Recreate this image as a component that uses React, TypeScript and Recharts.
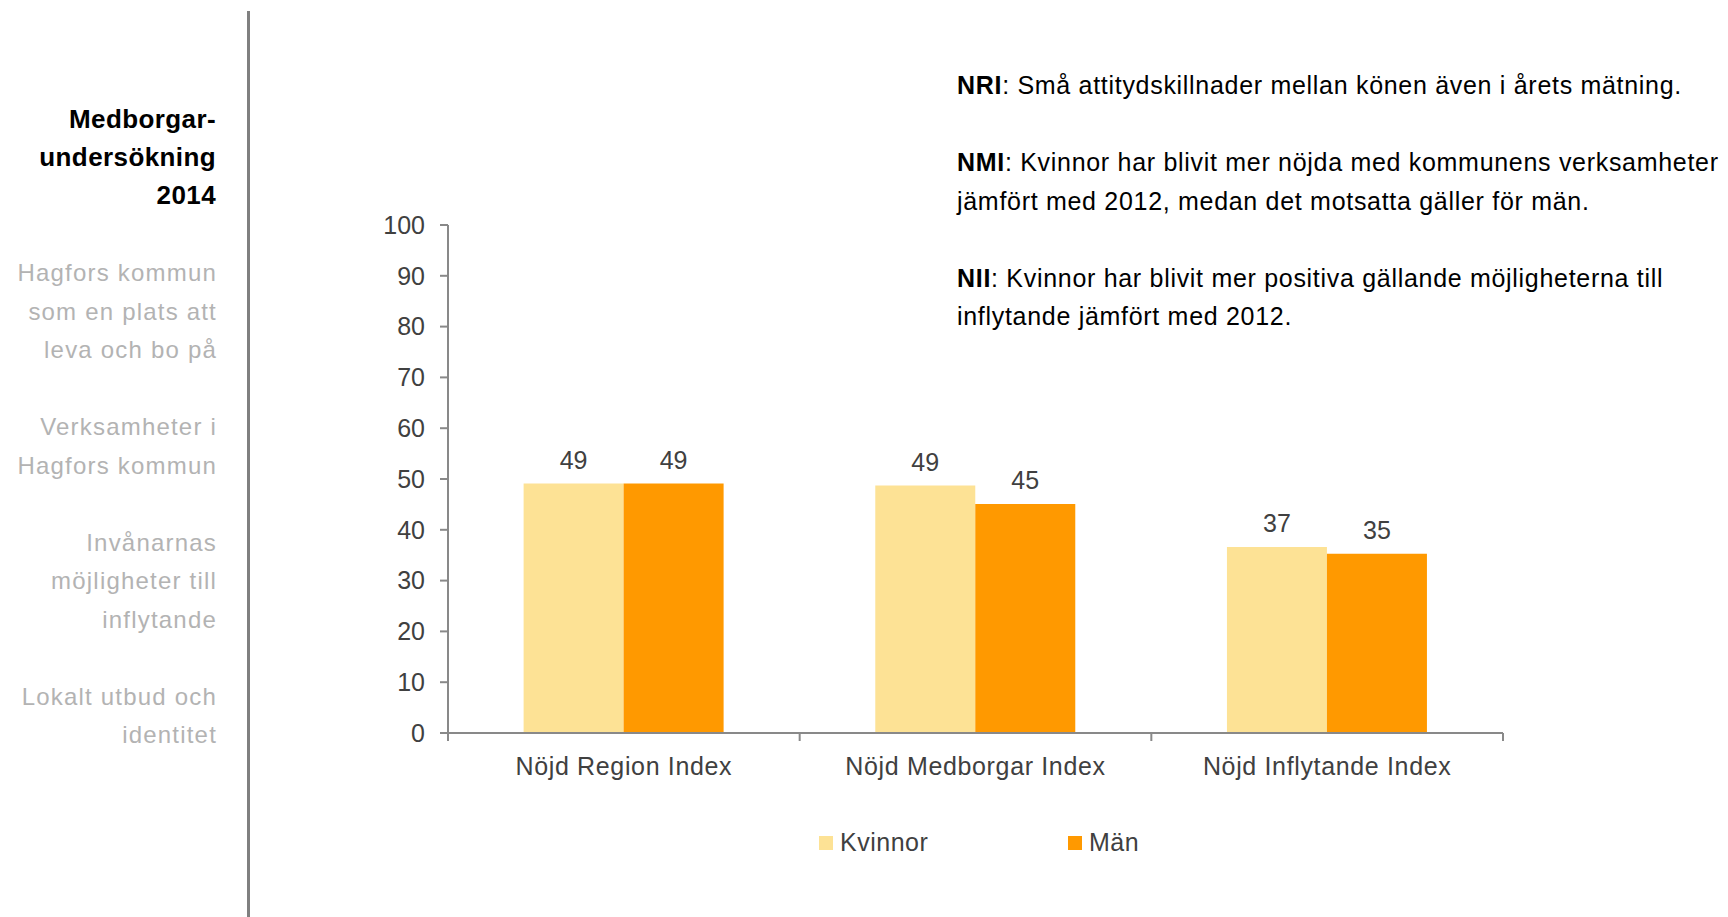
import React from 'react';
import { BarChart, Bar, XAxis, YAxis, LabelList } from 'recharts';

const CATEGORIES = ['Nöjd Region Index', 'Nöjd Medborgar Index', 'Nöjd Inflytande Index'];
const KVINNOR = [49.1, 48.7, 36.6];
const MAN = [49.1, 45.1, 35.3];
const Y_TICKS = [0, 10, 20, 30, 40, 50, 60, 70, 80, 90, 100];

const SERIES = [
  { key: 'kvinnor', name: 'Kvinnor', color: '#FDE295' },
  { key: 'man', name: 'Män', color: '#FF9900' },
];

const SIDEBAR_TITLE = ['Medborgar-', 'undersökning', '2014'];
const SIDEBAR_SECTIONS = [
  ['Hagfors kommun', 'som en plats att', 'leva och bo på'],
  ['Verksamheter i', 'Hagfors kommun'],
  ['Invånarnas', 'möjligheter till', 'inflytande'],
  ['Lokalt utbud och', 'identitet'],
];

const NOTES = [
  { tag: 'NRI', lines: ['Små attitydskillnader mellan könen även i årets mätning.'] },
  {
    tag: 'NMI',
    lines: ['Kvinnor har blivit mer nöjda med kommunens verksamheter', 'jämfört med 2012, medan det motsatta gäller för män.'],
  },
  {
    tag: 'NII',
    lines: ['Kvinnor har blivit mer positiva gällande möjligheterna till', 'inflytande jämfört med 2012.'],
  },
];

const data = CATEGORIES.map((name, i) => ({ name, kvinnor: KVINNOR[i], man: MAN[i] }));

const FONT = '"Liberation Sans", Arial, Helvetica, sans-serif';
const AXIS = '#898989';
const TEXT = '#404040';

const CategoryTick = (props: any) => {
  const { x, y, payload, index, visibleTicksCount, width } = props;
  const half = payload.offset || width / (2 * CATEGORIES.length);
  return (
    <g>
      <line x1={x - half} x2={x - half} y1={y} y2={y + 8} stroke={AXIS} strokeWidth={2} />
      {index === visibleTicksCount - 1 && (
        <line x1={x + half} x2={x + half} y1={y} y2={y + 8} stroke={AXIS} strokeWidth={2} />
      )}
      <text x={x} y={y + 42} textAnchor="middle" fill={TEXT} fontSize={25} fontFamily={FONT} letterSpacing={0.65}>
        {payload.value}
      </text>
    </g>
  );
};

export default function App() {
  return (
    <div style={{ position: 'absolute', left: 0, top: 0, width: 1728, height: 917, background: '#fff', fontFamily: FONT, overflow: 'hidden' }}>
      {/* left menu */}
      <div style={{ position: 'absolute', left: 0, top: 100, width: 216, textAlign: 'right', fontSize: 26, fontWeight: 'bold', lineHeight: '38px', color: '#000', letterSpacing: 0.4 }}>
        {SIDEBAR_TITLE.map((t) => (
          <div key={t}>{t}</div>
        ))}
      </div>
      <div style={{ position: 'absolute', left: 0, top: 254, width: 217, textAlign: 'right', fontSize: 24, lineHeight: '38.5px', color: '#B3B3B3', letterSpacing: 1.2 }}>
        {SIDEBAR_SECTIONS.map((sec, i) => (
          <div key={i} style={{ marginBottom: 38.5 }}>
            {sec.map((l) => (
              <div key={l}>{l}</div>
            ))}
          </div>
        ))}
      </div>
      <div style={{ position: 'absolute', left: 247, top: 11, width: 3, height: 906, background: '#808080' }} />

      {/* notes */}
      <div style={{ position: 'absolute', left: 957, top: 66, fontSize: 25, lineHeight: '38.5px', color: '#000', whiteSpace: 'nowrap', letterSpacing: 0.7 }}>
        {NOTES.map((n) => (
          <div key={n.tag} style={{ marginBottom: 38.5 }}>
            {n.lines.map((l, j) => (
              <div key={j}>
                {j === 0 && <b>{n.tag}</b>}
                {j === 0 ? ': ' : ''}
                {l}
              </div>
            ))}
          </div>
        ))}
      </div>

      <div style={{ position: 'absolute', left: 0, top: 0 }}>
        <BarChart
          width={1728}
          height={917}
          data={data}
          margin={{ top: 225, right: 225, bottom: 124, left: 368 }}
          barCategoryGap="21.5%"
          barGap={0}
        >
          <XAxis
            dataKey="name"
            height={60}
            tickSize={0}
            tickMargin={0}
            tickLine={false}
            axisLine={{ stroke: AXIS, strokeWidth: 2 }}
            tick={<CategoryTick />}
            interval={0}
          />
          <YAxis
            width={80}
            domain={[0, 100]}
            ticks={Y_TICKS}
            interval={0}
            tickSize={8}
            tickMargin={15}
            axisLine={{ stroke: AXIS, strokeWidth: 2 }}
            tickLine={{ stroke: AXIS, strokeWidth: 2 }}
            tick={{ fill: TEXT, fontSize: 25, fontFamily: FONT }}
          />
          {SERIES.map((s) => (
            <Bar key={s.key} dataKey={s.key} name={s.name} fill={s.color} isAnimationActive={false}>
              <LabelList
                dataKey={s.key}
                position="top"
                offset={15}
                fill={TEXT}
                fontSize={25}
                fontFamily={FONT}
                formatter={(v: any) => Math.round(Number(v))}
              />
            </Bar>
          ))}
        </BarChart>
      </div>

      {/* legend */}
      {SERIES.map((s, i) => (
        <div key={s.key} style={{ position: 'absolute', left: 819 + i * 249, top: 828, display: 'flex', alignItems: 'center', fontSize: 25, color: TEXT, letterSpacing: 0.5 }}>
          <span style={{ width: 14, height: 14, background: s.color, display: 'inline-block', marginRight: 7 }} />
          <span>{s.name}</span>
        </div>
      ))}
    </div>
  );
}
